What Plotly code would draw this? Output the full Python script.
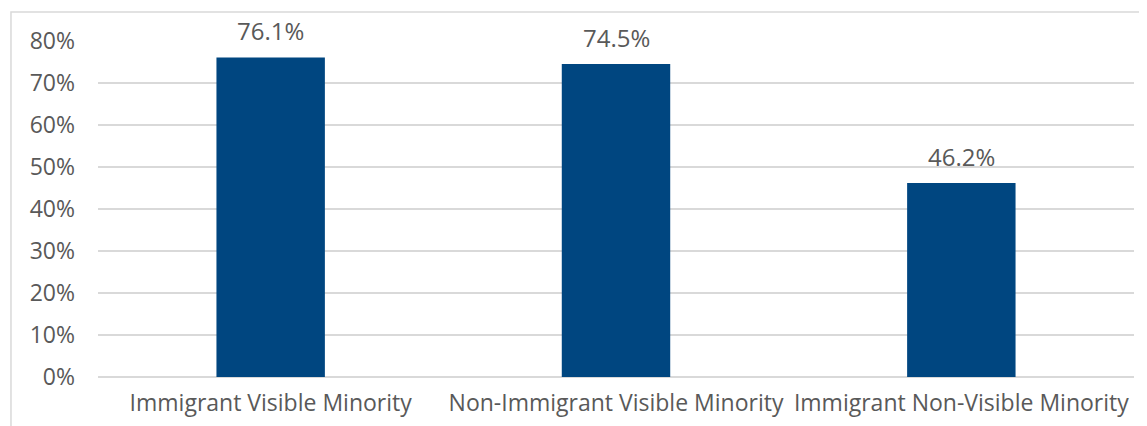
import plotly.graph_objects as go

categories = ["Immigrant Visible Minority", "Non-Immigrant Visible Minority", "Immigrant Non-Visible Minority"]
values = [76.1, 74.5, 46.2]
tick_vals = [0, 10, 20, 30, 40, 50, 60, 70, 80]
tick_text = ["0%", "10%", "20%", "30%", "40%", "50%", "60%", "70%", "80%"]

BAR = "#004680"
TXT = "#595959"
GRID = "#d9d9d9"
FONT = "Open Sans"

fig = go.Figure()
fig.add_trace(go.Bar(x=categories, y=values, marker=dict(color=BAR, line=dict(width=0)),
                     hoverinfo="skip"))

for c, v in zip(categories, values):
    fig.add_annotation(x=c, y=v, text=f"{v:.1f}%", showarrow=False, yanchor="bottom",
                       yshift=8, font=dict(family=FONT, size=24, color=TXT))

fig.update_layout(
    width=1147, height=426,
    margin=dict(l=90, r=21, t=33, b=57),
    paper_bgcolor="white", plot_bgcolor="white",
    bargap=0.686, showlegend=False,
    font=dict(family=FONT, size=23, color=TXT),
)
fig.update_xaxes(showgrid=False, showline=False, ticks="", ticklabelstandoff=10,
                 tickfont=dict(size=23, color=TXT))
fig.update_yaxes(range=[0, 80], tickvals=tick_vals, ticktext=tick_text, showgrid=True,
                 gridcolor=GRID, gridwidth=1.5, zeroline=True, zerolinecolor=GRID, zerolinewidth=1.5,
                 showline=False, ticks="", ticklabelstandoff=22, tickfont=dict(size=23, color=TXT))

# chart-area border (top and left edges)
fig.add_shape(type="path", xref="paper", yref="paper",
              path="M -0.084 -0.2 L -0.084 1.0863 L 1.05 1.0863",
              line=dict(color=GRID, width=1.5), layer="below")

fig.write_html("out.html")
